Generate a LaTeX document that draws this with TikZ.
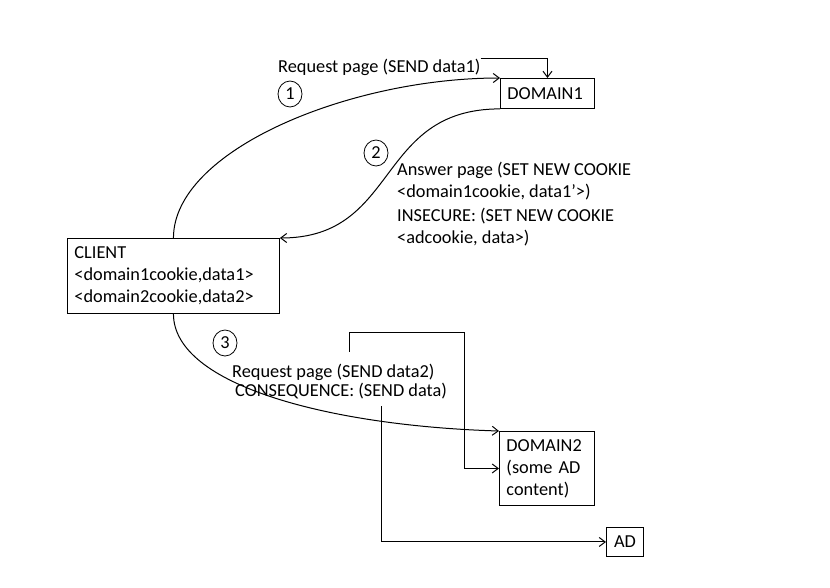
\documentclass[tikz,border=0pt]{standalone}
\usepackage{fontspec}
\setmainfont{Carlito}
\usetikzlibrary{positioning, arrows.meta, shapes.geometric}

\begin{document}
\begin{tikzpicture}[
  x=1pt, y=-1pt,
  font=\fontsize{18.3}{22}\selectfont,
  boxNode/.style={draw, line width=0.9pt, anchor=north west, align=left, inner xsep=7pt, inner ysep=0pt},
  stepMark/.style={draw, ellipse, line width=0.8pt, inner sep=0pt, minimum width=24pt, minimum height=26pt},
  labelText/.style={anchor=west, align=left, inner sep=0pt},
  arrow/.style={-{Straight Barb[length=6pt,width=9pt]}, line width=1pt}
]
\useasboundingbox (0,0) rectangle (830,587);

% Parties
\node[boxNode, text width=80pt, minimum height=30pt] (domOne) at (500,78) {DOMAIN1};
\node[boxNode, text width=198pt, minimum height=75pt] (client) at (67,238) {CLIENT\\<domain1cookie,data1>\\<domain2cookie,data2>};
\node[boxNode, text width=81pt, minimum height=74pt] (domTwo) at (499,431) {DOMAIN2\\(some AD\\content)};
\node[boxNode, align=center, inner xsep=3pt, minimum width=37pt, minimum height=29pt] (ad) at (606,527) {AD};

% Messages
\node[labelText] (reqOne) at (278,67) {Request page (SEND data1)};
\node[labelText] (answer) at (397,181) {Answer page (SET NEW COOKIE\\<domain1cookie, data1’>)};
\node[labelText, below=8pt of answer.south west, anchor=north west] (insecure) {INSECURE: (SET NEW COOKIE\\<adcookie, data>)};
\node[labelText] (reqTwo) at (232,372) {Request page (SEND data2)};
\node[labelText, below=2.5pt of reqTwo.south west, anchor=north west, xshift=3pt] (conseq) {CONSEQUENCE: (SEND data)};

% Steps
\node[stepMark] (stepOne) at (290,94) {1};
\node[stepMark] (stepTwo) at (376,153) {2};
\node[stepMark] (stepThree) at (225,343) {3};

% Curved exchanges
\draw[arrow] (client.north) .. controls +(0,-88) and +(-150,0) .. (domOne.north west);
\draw[arrow] (domOne.south west) .. controls +(-125,0) and +(120,0) .. (client.north east);
\draw[arrow] (client.south) .. controls +(0,72) and +(-167,-5) .. (domTwo.north west);

% Elbow connectors
\coordinate (bendTop) at (464,332);
\draw[arrow] (reqOne.north east) -| (domOne.north);
\draw[arrow] ([xshift=16pt,yshift=12pt]reqTwo.north) |- (bendTop) |- (domTwo.west);
\draw[arrow] ([xshift=40pt,yshift=-7pt]conseq.south) |- (ad.west);

\end{tikzpicture}
\end{document}
